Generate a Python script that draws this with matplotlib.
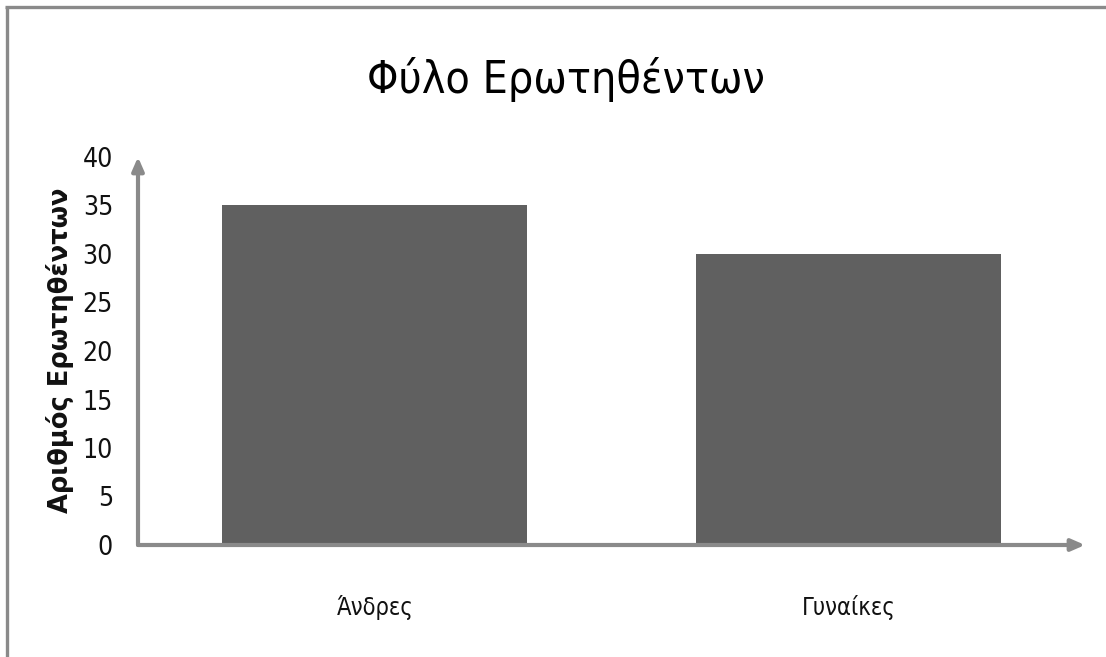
import matplotlib
matplotlib.use("Agg")
import matplotlib.pyplot as plt
from matplotlib.lines import Line2D

categories = ["Άνδρες", "Γυναίκες"]
values = [35, 30]
yticks = [0, 5, 10, 15, 20, 25, 30, 35, 40]

title = "Φύλο Ερωτηθέντων"
ylabel = "Αριθμός Ερωτηθέντων"

axis_gray = "#8a8a8a"
bar_gray = "#606060"
cond = dict(family="DejaVu Sans", stretch="condensed")

W, H = 1106, 657
fig = plt.figure(figsize=(W / 100, H / 100), dpi=100)
fig.patch.set_facecolor("white")

# frame lines along the top and left edges
fig.add_artist(Line2D([6.5 / W, 6.5 / W], [0, 1 - 6.5 / H], transform=fig.transFigure,
                      color=axis_gray, lw=2.4, solid_capstyle="butt"))
fig.add_artist(Line2D([5 / W, 1], [1 - 6.5 / H, 1 - 6.5 / H], transform=fig.transFigure,
                      color=axis_gray, lw=2.4, solid_capstyle="butt"))

x0, y0 = 138, 545
x1, ytop = 1085, 157
ax = fig.add_axes([x0 / W, (H - y0) / H, (x1 - x0) / W, (y0 - ytop) / H])
ax.set_facecolor("none")

xpos = list(range(len(categories)))
ax.bar(xpos, values, width=0.644, color=bar_gray, zorder=1)

ax.set_xlim(-0.5, 1.5)
ax.set_ylim(0, 40)
for s in ax.spines.values():
    s.set_visible(False)

ax.set_yticks(yticks)
ax.set_yticklabels([str(t) for t in yticks], fontsize=19, color="#111111", **cond)
ax.set_xticks(xpos)
ax.set_xticklabels(categories, fontsize=17, color="#111111", **cond)
ax.tick_params(axis="y", length=0, pad=18)
ax.tick_params(axis="x", length=0, pad=36)

# axis lines with arrowheads
arrow = dict(arrowstyle="-|>,head_length=0.8,head_width=0.35",
             color=axis_gray, lw=3, shrinkA=0, shrinkB=0)
ax.annotate("", xy=(0, 1.0), xytext=(0, 0), xycoords="axes fraction",
            arrowprops=arrow, zorder=3)
ax.annotate("", xy=(1.0, 0), xytext=(0, 0), xycoords="axes fraction",
            arrowprops=arrow, zorder=3)

fig.text(60 / W, 1 - 350 / H, ylabel, rotation=90, ha="center", va="center",
         fontsize=18.5, fontweight="bold", family="DejaVu Sans", color="#111111")
fig.text(566 / W, 1 - 80 / H, title, ha="center", va="center",
         fontsize=32, color="#000000", **cond)

fig.savefig("out.png", dpi=100)
